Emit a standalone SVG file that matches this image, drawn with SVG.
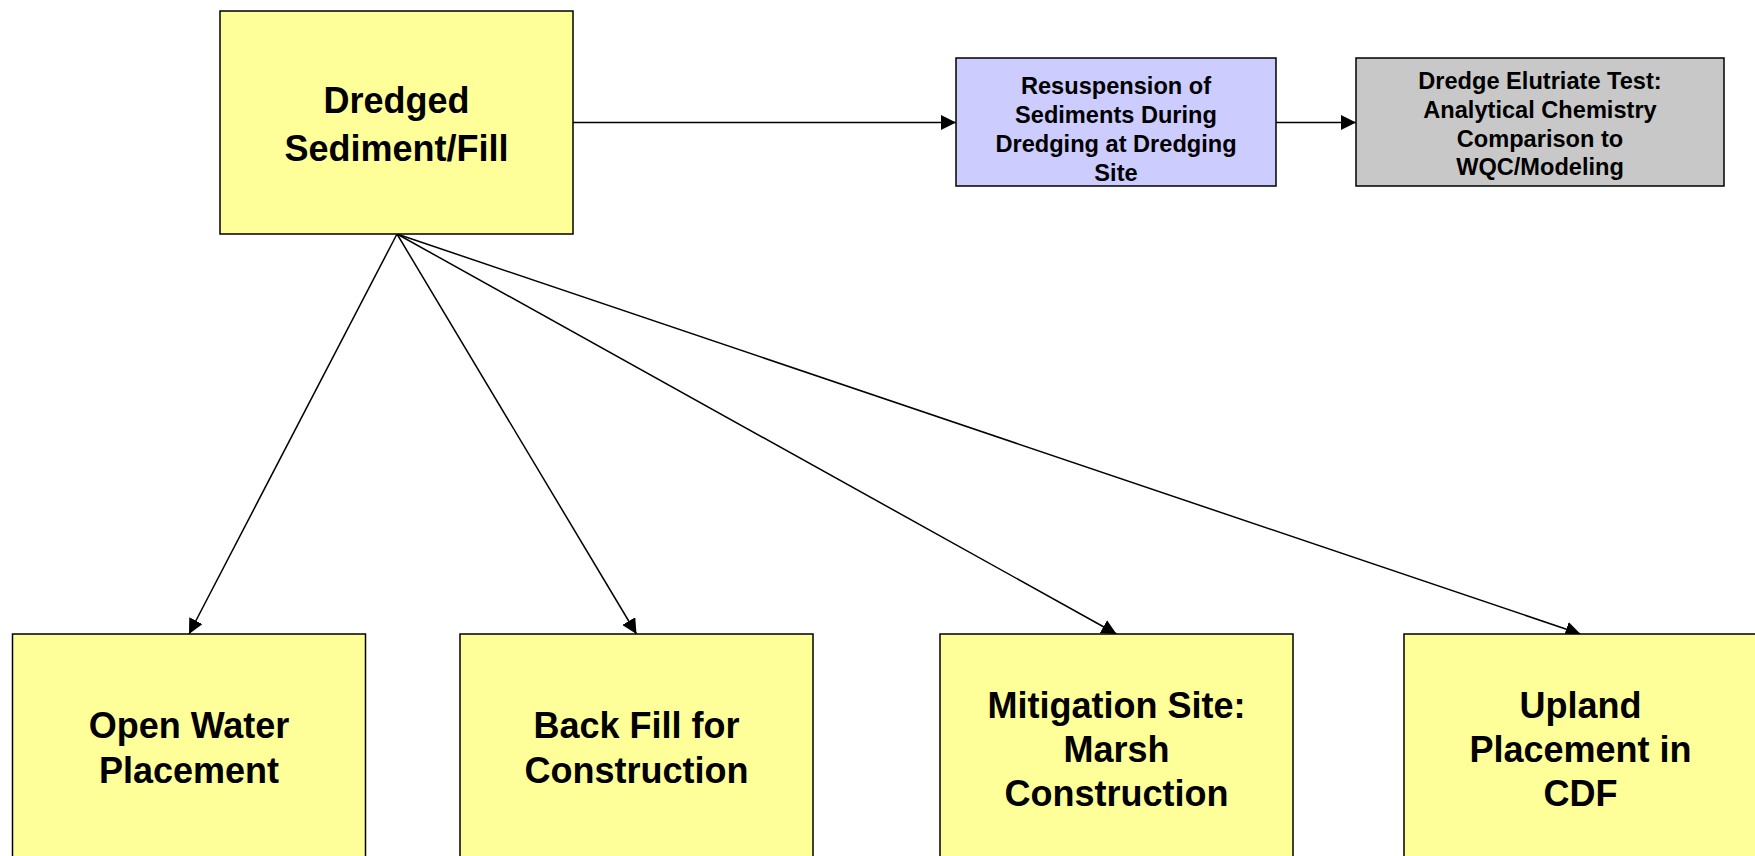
<svg xmlns="http://www.w3.org/2000/svg" width="1755" height="856" viewBox="0 0 1755 856">
  <style>
    .box { stroke: #000; stroke-width: 1.5; }
    .yellow { fill: #FFFF99; }
    .lav { fill: #CCCCFF; }
    .grey { fill: #C8C8C8; }
    .big { font-family: "Liberation Sans", Arial, sans-serif; font-weight: bold; font-size: 36px; fill: #000; text-anchor: middle; }
    .small { font-family: "Liberation Sans", Arial, sans-serif; font-weight: bold; font-size: 23.6px; fill: #000; text-anchor: middle; }
    .conn { stroke: #000; stroke-width: 1.5; fill: none; marker-end: url(#arrow); }
  </style>
  <defs>
    <marker id="arrow" markerUnits="userSpaceOnUse" markerWidth="15" markerHeight="15" refX="15" refY="7.5" orient="auto">
      <path d="M0,0 L15,7.5 L0,15 z" fill="#000"/>
    </marker>
  </defs>
  <rect width="1755" height="856" fill="#fff"/>

  <g id="connectors">
    <line class="conn" x1="573" y1="122.5" x2="956" y2="122.5"/>
    <line class="conn" x1="1276" y1="122.5" x2="1356" y2="122.5"/>
    <line class="conn" x1="397" y1="234" x2="189" y2="634"/>
    <line class="conn" x1="397" y1="234" x2="636.5" y2="634"/>
    <line class="conn" x1="397" y1="234" x2="1116.5" y2="634"/>
    <line class="conn" x1="397" y1="234" x2="1580.5" y2="634"/>
  </g>

  <g id="dredged">
    <rect class="box yellow" x="220" y="11" width="353" height="223"/>
    <text class="big" x="396.5" y="113">Dredged</text>
    <text class="big" x="396.5" y="161">Sediment/Fill</text>
  </g>

  <g id="resuspension">
    <rect class="box lav" x="956" y="58" width="320" height="128"/>
    <text class="small" x="1116" y="93.5">Resuspension of</text>
    <text class="small" x="1116" y="122.5">Sediments During</text>
    <text class="small" x="1116" y="151.5">Dredging at Dredging</text>
    <text class="small" x="1116" y="180.5">Site</text>
  </g>

  <g id="elutriate">
    <rect class="box grey" x="1356" y="58" width="368" height="128"/>
    <text class="small" x="1540" y="88.5">Dredge Elutriate Test:</text>
    <text class="small" x="1540" y="117.5">Analytical Chemistry</text>
    <text class="small" x="1540" y="146.5">Comparison to</text>
    <text class="small" x="1540" y="175">WQC/Modeling</text>
  </g>

  <g id="openwater">
    <rect class="box yellow" x="12.5" y="634" width="353" height="224"/>
    <text class="big" x="189" y="738">Open Water</text>
    <text class="big" x="189" y="783">Placement</text>
  </g>

  <g id="backfill">
    <rect class="box yellow" x="460" y="634" width="353" height="224"/>
    <text class="big" x="636.5" y="738">Back Fill for</text>
    <text class="big" x="636.5" y="783">Construction</text>
  </g>

  <g id="mitigation">
    <rect class="box yellow" x="940" y="634" width="353" height="224"/>
    <text class="big" x="1116.5" y="717.5">Mitigation Site:</text>
    <text class="big" x="1116.5" y="762">Marsh</text>
    <text class="big" x="1116.5" y="806">Construction</text>
  </g>

  <g id="upland">
    <rect class="box yellow" x="1404" y="634" width="353" height="224"/>
    <text class="big" x="1580.5" y="717.5">Upland</text>
    <text class="big" x="1580.5" y="762">Placement in</text>
    <text class="big" x="1580.5" y="806">CDF</text>
  </g>
</svg>
